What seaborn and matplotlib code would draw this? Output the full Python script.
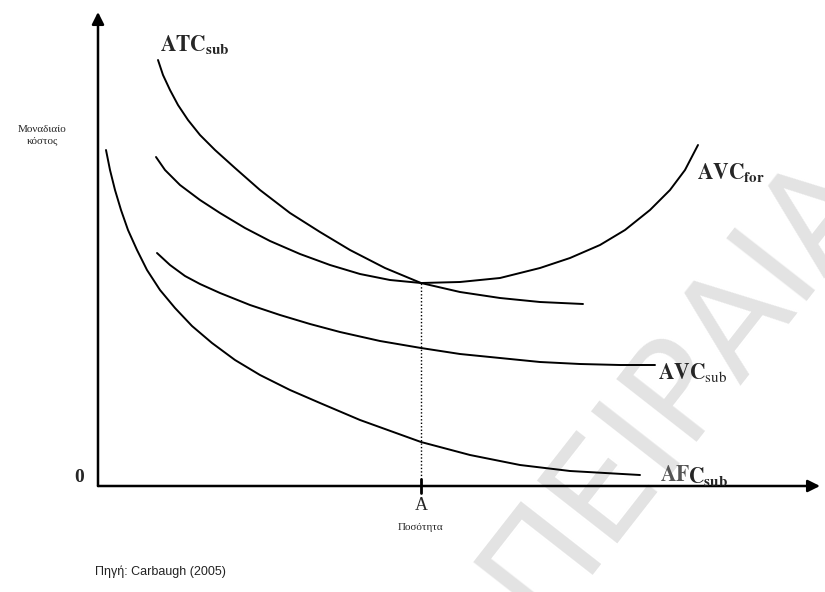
import matplotlib
matplotlib.use("Agg")
import matplotlib.pyplot as plt
import seaborn as sns
import pandas as pd

# values (quantity / unit cost, origin at the axes corner)
atc_sub_q = [60, 65, 72, 80, 90, 102, 117, 137, 162, 192, 222, 252, 287, 323, 362, 402, 442, 485]
atc_sub_c = [426, 411, 396, 381, 366, 351, 336, 318, 296, 273, 254, 236, 218, 203, 194, 188, 184, 182]

avc_for_q = [58, 67, 82, 102, 122, 147, 172, 202, 232, 262, 292, 323,
             362, 402, 442, 472, 502, 527, 552, 572, 587, 600]
avc_for_c = [329, 316, 301, 286, 273, 258, 245, 232, 221, 212, 206, 203,
             204, 208, 218, 228, 241, 256, 276, 296, 316, 341]

avc_sub_q = [59, 72, 87, 102, 122, 152, 182, 212, 242, 282, 323, 362, 402, 442, 482, 522, 557]
avc_sub_c = [233, 221, 210, 202, 193, 181, 171, 162, 154, 145, 138, 132, 128, 124, 122, 121, 121]

afc_sub_q = [8, 12, 17, 23, 30, 39, 49, 62, 77, 94, 114, 137, 162, 192, 222, 262, 323, 372, 422, 472, 542]
afc_sub_c = [336, 316, 296, 276, 256, 236, 216, 196, 178, 160, 143, 126, 111, 96, 83, 66, 44, 31, 21, 15, 11]

q_a = 323
c_a = 203

W, H = 825, 592
sns.set_style("white")
plt.rcParams["font.family"] = ["Liberation Serif", "DejaVu Serif"]
plt.rcParams["mathtext.fontset"] = "stix"

fig = plt.figure(figsize=(W / 100, H / 100), dpi=100)
ox, oy = 98, 486
ax = fig.add_axes([ox / W, (H - oy) / H, (820 - ox) / W, (oy - 12) / H])
ax.set_xlim(0, 820 - ox)
ax.set_ylim(0, oy - 12)
ax.patch.set_alpha(0)
for s in ax.spines.values():
    s.set_visible(False)
ax.set_xticks([])
ax.set_yticks([])

# watermark
fig.text(540 / W, 1 - 625 / H, "ΠΕΙΡΑΙΑ", rotation=52, rotation_mode="anchor",
         ha="left", va="baseline", fontsize=100, color="#e3e3e3",
         family="DejaVu Sans", zorder=-5)

curves = [
    ("ATC", atc_sub_q, atc_sub_c),
    ("AVCfor", avc_for_q, avc_for_c),
    ("AVCsub", avc_sub_q, avc_sub_c),
    ("AFC", afc_sub_q, afc_sub_c),
]
for name, q, c in curves:
    df = pd.DataFrame({"q": q, "c": c})
    sns.lineplot(data=df, x="q", y="c", sort=False, color="black", lw=1.4, ax=ax)
ax.set_xlabel("")
ax.set_ylabel("")

# axes with arrows
ax.annotate("", xy=(1.0, 0), xytext=(0, 0), xycoords="axes fraction",
            arrowprops=dict(arrowstyle="-|>", color="black", lw=1.8,
                            mutation_scale=18, shrinkA=0, shrinkB=0))
ax.annotate("", xy=(0, 1.0), xytext=(0, 0), xycoords="axes fraction",
            arrowprops=dict(arrowstyle="-|>", color="black", lw=1.8,
                            mutation_scale=18, shrinkA=0, shrinkB=0))

# dotted guide at A and tick
ax.plot([q_a, q_a], [0, c_a], color="black", lw=1, ls=(0, (1, 1.5)))
ax.plot([q_a, q_a], [-7, 7], color="black", lw=2, clip_on=False)

def ft(px, py, s, **kw):
    fig.text(px / W, 1 - py / H, s, **kw)

ft(79, 477, "0", fontsize=14, fontweight="bold", ha="center", va="center")
ft(421, 505, "A", fontsize=13, ha="center", va="center")
ft(421, 527, "Ποσότητα", fontsize=8, ha="center", va="center")
ft(42, 135, "Μοναδιαίο\nκόστος", fontsize=8, ha="center", va="center", linespacing=1.3)
ft(95, 572, "Πηγή: Carbaugh (2005)", fontsize=9, ha="left", va="center",
   family=["Liberation Sans", "DejaVu Sans"], color="#222222")

ft(160, 45, r"$\mathbf{ATC}_{\mathbf{sub}}$", fontsize=15.5, ha="left", va="center")
ft(697, 172, r"$\mathbf{AVC}_{\mathbf{for}}$", fontsize=15.5, ha="left", va="center")
ft(658, 372, r"$\mathbf{AVC}_{\mathrm{sub}}$", fontsize=15.5, ha="left", va="center")
ft(660, 476, r"$\mathbf{AF}$", fontsize=15.5, ha="left", va="center", color="#555555")
ft(688, 476, r"$\mathbf{C}_{\mathbf{sub}}$", fontsize=15.5, ha="left", va="center")

fig.savefig("out.png", dpi=100)
